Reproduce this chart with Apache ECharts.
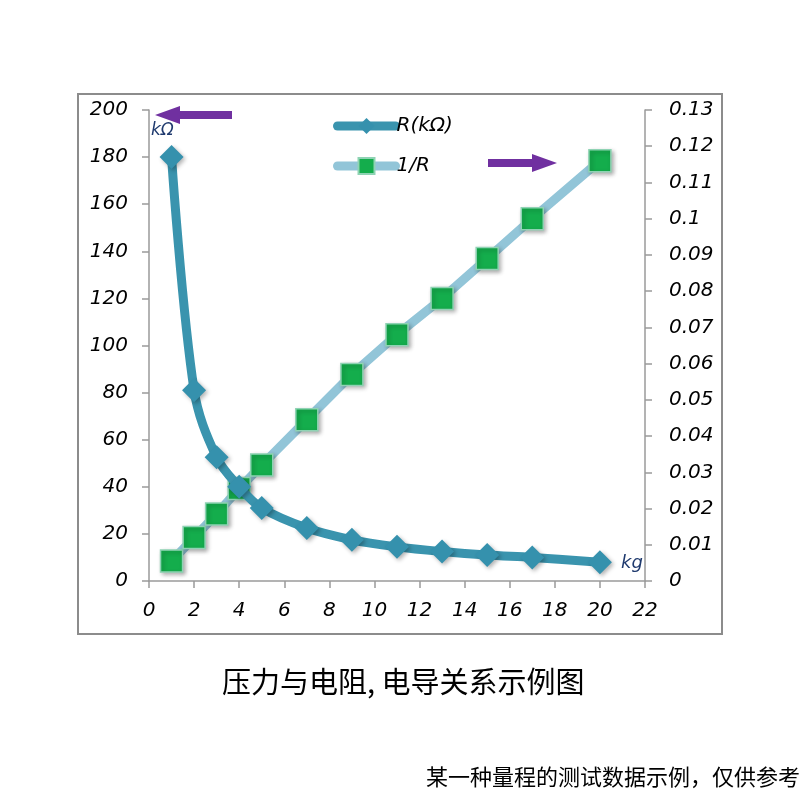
<!DOCTYPE html>
<html>
<head>
<meta charset="utf-8">
<script src="https://cdn.jsdelivr.net/npm/echarts@6/dist/echarts.min.js"></script>
<style>
  html, body { margin: 0; padding: 0; background: #fff; }
  #main { width: 800px; height: 800px; }
</style>
</head>
<body>
<div id="main"></div>
<script>
// load in kg
var weightKg = [1, 2, 3, 4, 5, 7, 9, 11, 13, 15, 17, 20];
// resistance, kOhm
var resistance = [180, 81, 52.5, 40, 31, 22.5, 17.5, 14.5, 12.5, 11, 10, 8];
// conductance 1/R
var conductance = [0.0055, 0.012, 0.0185, 0.0255, 0.032, 0.0445, 0.057, 0.068, 0.078, 0.089, 0.1, 0.116];

var seriesNames = ['R(kΩ)', '1/R'];
var chartTitle = '压力与电阻, 电导关系示例图';
var footNote = '某一种量程的测试数据示例，仅供参考';

var chart = echarts.init(document.getElementById('main'), null, { renderer: 'canvas' });

function pairs(xs, ys) {
  return xs.map(function (x, i) { return [x, ys[i]]; });
}

var axisFont = {
  fontFamily: 'DejaVu Sans',
  fontStyle: 'italic',
  fontSize: 20,
  color: '#000'
};
var axisLine = { show: true, lineStyle: { color: '#9a9a9a', width: 1.5 } };
var axisTick = { show: true, length: 7, lineStyle: { color: '#9a9a9a', width: 1.5 } };

var purple = '#7030a0';

var option = {
  backgroundColor: '#ffffff',
  animation: false,
  grid: { left: 149, right: 155, top: 110, bottom: 219 },
  legend: {
    orient: 'vertical',
    left: 328,
    top: 111,
    itemWidth: 58,
    itemHeight: 20,
    itemGap: 20,
    textStyle: { fontFamily: 'DejaVu Sans', fontStyle: 'italic', fontSize: 20, color: '#000', padding: [0, 0, 0, -4] },
    data: [
      { name: seriesNames[0], lineStyle: { width: 9, cap: 'round', color: '#3a94ae' } },
      { name: seriesNames[1], lineStyle: { width: 9, cap: 'round', color: '#92c5d8' } }
    ]
  },
  xAxis: {
    type: 'value',
    min: 0, max: 22, interval: 2,
    axisLine: axisLine,
    axisTick: axisTick,
    splitLine: { show: false },
    axisLabel: Object.assign({ margin: 20 }, axisFont)
  },
  yAxis: [{
    type: 'value',
    min: 0, max: 200, interval: 20,
    axisLine: axisLine,
    axisTick: axisTick,
    splitLine: { show: false },
    axisLabel: Object.assign({ margin: 21 }, axisFont)
  }, {
    type: 'value',
    position: 'right',
    min: 0, max: 0.13, interval: 0.01,
    axisLine: axisLine,
    axisTick: axisTick,
    splitLine: { show: false },
    axisLabel: Object.assign({
      margin: 24,
      formatter: function (v) { return String(+v.toFixed(2)); }
    }, axisFont)
  }],
  series: [{
    name: seriesNames[0],
    type: 'line',
    yAxisIndex: 0,
    smooth: 0.35,
    data: pairs(weightKg, resistance),
    symbol: 'diamond',
    symbolSize: 24,
    lineStyle: { color: '#3a94ae', width: 9 },
    itemStyle: {
      color: '#3591ad',
      shadowBlur: 4, shadowOffsetX: 2, shadowOffsetY: 2, shadowColor: 'rgba(0,0,0,0.3)'
    },
    z: 3
  }, {
    name: seriesNames[1],
    type: 'line',
    yAxisIndex: 1,
    data: pairs(weightKg, conductance),
    symbol: 'rect',
    symbolSize: 22,
    lineStyle: { color: '#92c5d8', width: 9 },
    itemStyle: {
      color: '#14ad4c',
      borderColor: '#8fd3b4', borderWidth: 1.5,
      shadowBlur: 4, shadowOffsetX: 2, shadowOffsetY: 2, shadowColor: 'rgba(0,0,0,0.3)'
    },
    z: 2
  }],
  graphic: [
    // outer frame
    { type: 'rect', shape: { x: 78, y: 94, width: 644, height: 540 },
      style: { fill: 'none', stroke: '#8c8c8c', lineWidth: 2 }, z: -1 },
    // arrow to left axis
    { type: 'polygon',
      shape: { points: [[155, 115], [180, 106], [180, 111], [232, 111], [232, 119], [180, 119], [180, 124]] },
      style: { fill: purple } },
    // arrow to right axis
    { type: 'polygon',
      shape: { points: [[557, 163], [532, 154], [532, 159], [488, 159], [488, 167], [532, 167], [532, 172]] },
      style: { fill: purple } },
    { type: 'text', left: 151, top: 122,
      style: { text: 'kΩ', fontFamily: 'DejaVu Sans', fontStyle: 'italic', fontSize: 17, fill: '#1f3a6e' } },
    { type: 'text', left: 621, top: 554,
      style: { text: 'kg', fontFamily: 'DejaVu Sans', fontStyle: 'italic', fontSize: 18, fill: '#1f3a6e' } },
    { type: 'text', left: 222, top: 667,
      style: { text: chartTitle, fontFamily: 'Noto Sans CJK SC', fontSize: 29, fill: '#000' } },
    { type: 'text', right: 0, top: 766,
      style: { text: footNote, fontFamily: 'Noto Sans CJK SC', fontSize: 22, fill: '#000' } }
  ]
};

chart.setOption(option);
</script>
</body>
</html>
